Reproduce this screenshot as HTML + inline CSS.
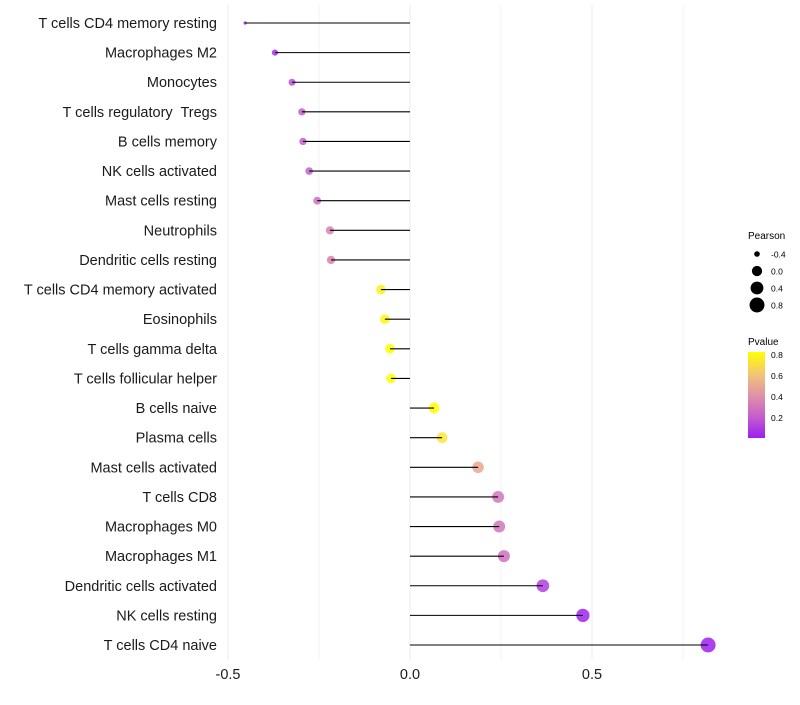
<!DOCTYPE html>
<html><head><meta charset="utf-8"><style>
body{margin:0;background:#fff;font-family:"Liberation Sans",sans-serif}
</style></head><body>
<svg id="c" width="800" height="700"></svg>
<script>
const categories=["T cells CD4 memory resting","Macrophages M2","Monocytes","T cells regulatory  Tregs","B cells memory","NK cells activated","Mast cells resting","Neutrophils","Dendritic cells resting","T cells CD4 memory activated","Eosinophils","T cells gamma delta","T cells follicular helper","B cells naive","Plasma cells","Mast cells activated","T cells CD8","Macrophages M0","Macrophages M1","Dendritic cells activated","NK cells resting","T cells CD4 naive"];
const pearson=[-0.453,-0.371,-0.324,-0.297,-0.294,-0.277,-0.255,-0.220,-0.217,-0.080,-0.069,-0.055,-0.052,0.066,0.088,0.187,0.242,0.245,0.258,0.365,0.475,0.819];
const pvalues=[0.01,0.05,0.15,0.2,0.2,0.22,0.28,0.35,0.35,0.8,0.82,0.85,0.85,0.85,0.75,0.5,0.3,0.3,0.28,0.1,0.02,0.001];
const xTicks=[-0.5,0,0.5];
const xTickLabels=["-0.5","0.0","0.5"];
const sizeLegend=[-0.4,0.0,0.4,0.8];
const pLegendTicks=[0.2,0.4,0.6,0.8];
const NS="http://www.w3.org/2000/svg";
const svg=document.getElementById('c');
const X=v=>410+v*364;
const Y=i=>23+i*(645-23)/(categories.length-1);
const pmin=Math.min(...pearson),pmax=Math.max(...pearson);
const R=v=>{const t=Math.max(0,Math.min(1,(v-pmin)/(pmax-pmin)));return 1.6+5.9*Math.sqrt(t);};
const stops=[[0,[157,31,240]],[0.2,[196,92,204]],[0.4,[222,143,168]],[0.6,[242,192,124]],[0.85,[255,255,0]]];
function col(p){p=Math.max(0,Math.min(0.85,p));for(let k=1;k<stops.length;k++){if(p<=stops[k][0]){const a=stops[k-1],b=stops[k],t=(p-a[0])/(b[0]-a[0]);return 'rgb('+a[1].map((c,j)=>Math.round(c+(b[1][j]-c)*t)).join(',')+')';}}return 'rgb(255,255,0)';}
function el(t,a,p){const e=document.createElementNS(NS,t);for(const k in a)e.setAttribute(k,a[k]);(p||svg).appendChild(e);return e;}
for(let v=-0.5;v<=0.76;v+=0.25){const g=el('line',{x1:X(v),x2:X(v),y1:5,y2:660,stroke:'#ebebeb','stroke-width':v%0.5===0?1:0.6});

}
categories.forEach((c,i)=>{
 const d=el('circle',{cx:X(pearson[i]),cy:Y(i),r:R(pearson[i]),fill:col(pvalues[i]),opacity:0.85});
 
 
 const l=el('line',{x1:X(0),x2:X(pearson[i]),y1:Y(i),y2:Y(i),stroke:'#000','stroke-width':1.1});
 
 
 const t=el('text',{x:217,y:Y(i)+5,'text-anchor':'end','font-size':14.5,fill:'#1a1a1a','xml:space':'preserve'});t.style.whiteSpace='pre';t.textContent=c;
 
 
});
xTicks.forEach((v,i)=>{const t=el('text',{x:X(v),y:679,'text-anchor':'middle','font-size':14.5,fill:'#1a1a1a'});t.textContent=xTickLabels[i];

});
let lt=el('text',{x:748,y:239,'font-size':10,fill:'#000'});lt.textContent='Pearson';


sizeLegend.forEach((v,i)=>{const y=254+i*17;const c=el('circle',{cx:757,cy:y,r:R(v),fill:'#000'});


const t=el('text',{x:771,y:y+3.5,'font-size':8.5,fill:'#000'});t.textContent=v.toFixed(1);

});
lt=el('text',{x:748,y:345,'font-size':10,fill:'#000'});lt.textContent='Pvalue';


const defs=el('defs',{});const gr=el('linearGradient',{id:'g',x1:0,y1:1,x2:0,y2:0},defs);
stops.forEach(s=>el('stop',{offset:s[0]/0.83,'stop-color':'rgb('+s[1].join(',')+')'},gr));
const PY=p=>438-(p-0.01)/(0.82)*86;
const bar=el('rect',{x:748,y:352,width:17,height:86,fill:'url(#g)'});


pLegendTicks.forEach(p=>{const t=el('text',{x:771,y:PY(p)+3,'font-size':8.5,fill:'#000'});t.textContent=p.toFixed(1);

});
</script>
</body></html>
